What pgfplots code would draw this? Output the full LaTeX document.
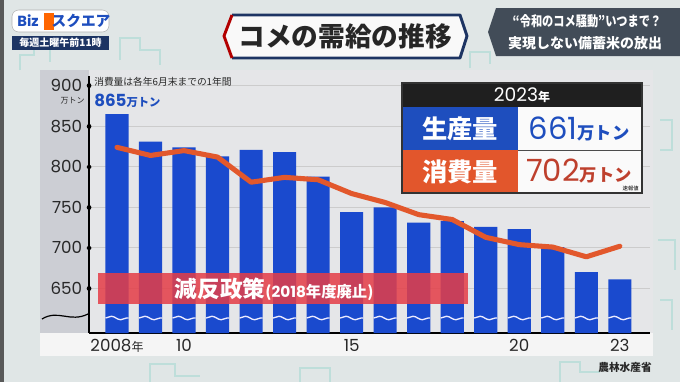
\documentclass[border=0pt]{standalone}
\usepackage{fontspec}
\setmainfont{Noto Sans CJK JP}
\newfontfamily\pop{Poppins}
\newfontfamily\jp{Noto Sans CJK JP}
\usepackage{pgfplots}
\pgfplotsset{compat=1.18}
\usetikzlibrary{decorations.pathmorphing}
\definecolor{barblue}{RGB}{26,74,206}
\definecolor{lineor}{RGB}{226,88,44}
\definecolor{bg}{RGB}{224,230,230}
\definecolor{panel}{RGB}{229,230,232}
\definecolor{strip}{RGB}{204,206,212}
\definecolor{navy}{RGB}{29,52,99}
\definecolor{bandred}{RGB}{228,62,72}
\definecolor{boxblue}{RGB}{30,78,190}
\definecolor{boxor}{RGB}{226,86,44}
\definecolor{txtred}{RGB}{190,64,45}
\definecolor{slate}{RGB}{66,76,88}
\definecolor{teal1}{RGB}{190,222,218}
\definecolor{txt}{RGB}{40,40,40}
\begin{document}
\begin{tikzpicture}[x=0.75pt,y=-0.75pt]
\useasboundingbox (0,0) rectangle (680,382);
\fill[bg] (0,0) rectangle (680,382);
\fill[black!65] (0,0) rectangle (4,382);
% faint background line art
\begin{scope}[teal1, line width=1.5pt]
\draw (20,70) -- (20,55) -- (34,55) -- (34,40) -- (50,40) -- (50,62);
\draw (120,60) -- (120,38) -- (140,38) -- (140,50) -- (160,50) -- (160,65);
\draw (470,68) -- (470,52) -- (490,52) -- (490,64);
\draw (560,382) -- (560,362) -- (580,362) -- (580,372) -- (600,372);
\draw (150,382) -- (150,364) -- (175,364) -- (175,376) -- (200,376);
\draw (300,382) -- (300,368) -- (330,368) -- (330,382);
\draw (660,120) -- (672,120) -- (672,150) -- (660,150);
\draw (658,240) -- (675,240) -- (675,270);
\draw (660,300) -- (672,300) -- (672,330);
\end{scope}
% panel
\fill[panel] (40,70) rectangle (653,334);
\fill[strip] (40,70) rectangle (89,334);
\fill[black!4] (40,333) rectangle (653,356);
% logo
\fill[white, rounded corners=5pt] (12,10) rectangle (109,32);
\draw[gray!60, rounded corners=5pt] (12,10) rectangle (109,32);
\node[font=\bfseries\fontsize{11}{11}\selectfont, text=boxblue] at (28,21) {\pop Biz};
\fill[orange!80!red] (44,13) rectangle (54,30);
\node[font=\bfseries\fontsize{11}{11}\selectfont, text=boxblue] at (81,21) {スクエア};
\fill[navy] (12,36) rectangle (109,50);
\node[font=\bfseries\fontsize{7.5}{7.5}\selectfont, text=white] at (60.5,43) {毎週土曜午前11時};
% title box
\fill[white!95!gray] (224,36) -- (232,15) -- (460,15) -- (467,36) -- (460,58) -- (232,58) -- cycle;
\draw[navy, line width=2.2pt, line join=round] (232,15) -- (460,15) -- (467,36) -- (460,58) -- (232,58);
\draw[red!70!black, line width=2.2pt, line join=round] (232,15) -- (224,36) -- (232,58);
\node[font=\bfseries\fontsize{20}{20}\selectfont, text=black!85] at (345,36.5) {コメの需給の推移};
% headline box top right
\fill[slate] (496,8) -- (680,8) -- (680,56) -- (496,56) -- (488,32) -- cycle;
\node[font=\bfseries\fontsize{10.5}{10.5}\selectfont, text=white] at (587,21) {\scalebox{0.8}[1]{“令和のコメ騒動”いつまで？}};
\node[font=\bfseries\fontsize{10.5}{10.5}\selectfont, text=white] at (585,43) {実現しない備蓄米の放出};
% chart
\begin{axis}[at={(66.75pt,-249.75pt)}, anchor=south west, scale only axis,
  width=420.75pt, height=192.75pt,
  xmin=2007.165, xmax=2023.9, ymin=595, ymax=912,
  axis x line*=bottom, axis y line*=left,
  x axis line style={-}, y axis line style={-},
  axis line style={black, line width=1.1pt},
  ytick={650,700,750,800,850,900},
  xtick={2008,2010,2015,2020,2023},
  xticklabels={{\pop 2008}{\jp\fontsize{9}{9}\selectfont 年},{\pop 10},{\pop 15},{\pop 20},{\pop 23}},
  major tick length=0.1pt,
  xtick style={draw=none},
  ytick style={black, line width=3.4pt, line cap=round},
  ymajorgrids, grid style={gray!40, line width=0.6pt},
  /pgf/number format/assume math mode=true,
  yticklabel style={font=\pop\fontsize{12.5}{12.5}\selectfont, text=txt, inner sep=0pt, anchor=east, xshift=-5pt},
  xticklabel style={font=\fontsize{12.5}{12.5}\selectfont, text=txt, inner sep=0pt, anchor=north, yshift=-4.5pt},
  clip=true]
\addplot[ybar, bar width=0.69, fill=barblue, draw=none] coordinates {
(2008,865) (2009,831) (2010,824) (2011,813) (2012,821) (2013,818) (2014,788) (2015,744)
(2016,750) (2017,731) (2018,733) (2019,726) (2020,723) (2021,701) (2022,670) (2023,661)};
\addplot[lineor, line width=3.8pt, line join=round, line cap=round] coordinates {
(2008,824) (2009,814) (2010,820) (2011,812) (2012,781) (2013,787) (2014,784) (2015,767)
(2016,756) (2017,741) (2018,735) (2019,713) (2020,704) (2021,701) (2022,689) (2023,702)};
\end{axis}
% wave lines on bars
\foreach \i in {0,...,15} {
  \draw[white!92!blue, line width=1pt, decorate, decoration={snake, amplitude=1.3pt, segment length=14pt}]
    ({117+33.52*\i-11.5},318) -- ({117+33.52*\i+11.5},318);
}
\draw[black, line width=0.9pt] (42,319) .. controls (58,309) and (70,323) .. (88,314);
% red band
\fill[bandred, opacity=0.86] (98,273) rectangle (468,304);
\node[text=white, font=\bfseries\fontsize{17}{17}\selectfont, anchor=west] at (170,289)
  {減反政策{\fontsize{11.5}{11.5}\selectfont (\pop 2018\jp 年度廃止)}};
% annotations
\node[anchor=west, font=\fontsize{7.3}{7.3}\selectfont, text=txt, inner sep=0pt] at (94,82) {消費量は各年6月末までの1年間};
\node[anchor=east, font=\fontsize{6}{6}\selectfont, text=txt, inner sep=0pt] at (85,101) {万トン};
\node[anchor=west, text=boxblue, inner sep=0pt] at (94,101)
  {{\pop\bfseries\fontsize{12.5}{12.5}\selectfont 865}{\bfseries\fontsize{8.5}{8.5}\selectfont 万トン}};
% info box
\fill[black!88] (402,83) rectangle (642,107);
\fill[boxblue] (402,107) rectangle (518,150);
\fill[white!96!gray] (518,107) rectangle (642,150);
\fill[boxor] (402,150) rectangle (518,193);
\fill[white!96!gray] (518,150) rectangle (642,193);
\draw[black!70, line width=0.6pt] (518,150) -- (642,150);
\draw[black!80, line width=0.8pt] (402,83) rectangle (642,193);
\node[text=white] at (522,95.5) {{\pop\fontsize{14}{14}\selectfont 2023}{\bfseries\fontsize{9}{9}\selectfont 年}};
\node[text=white, font=\bfseries\fontsize{19}{19}\selectfont] at (460,128.5) {生産量};
\node[text=white, font=\bfseries\fontsize{19}{19}\selectfont] at (460,171.5) {消費量};
\node[text=boxblue] at (579,128.5) {{\pop\fontsize{23}{23}\selectfont 661}{\bfseries\fontsize{13}{13}\selectfont 万トン}};
\node[text=txtred] at (579,171.5) {{\pop\fontsize{23}{23}\selectfont 702}{\bfseries\fontsize{13}{13}\selectfont 万トン}};
\node[anchor=east, text=black, font=\fontsize{4}{4}\selectfont, inner sep=0pt] at (639,188) {速報値};
% source
\node[text=txt, font=\bfseries\fontsize{8}{8}\selectfont] at (625,367) {農林水産省};
\end{tikzpicture}
\end{document}
